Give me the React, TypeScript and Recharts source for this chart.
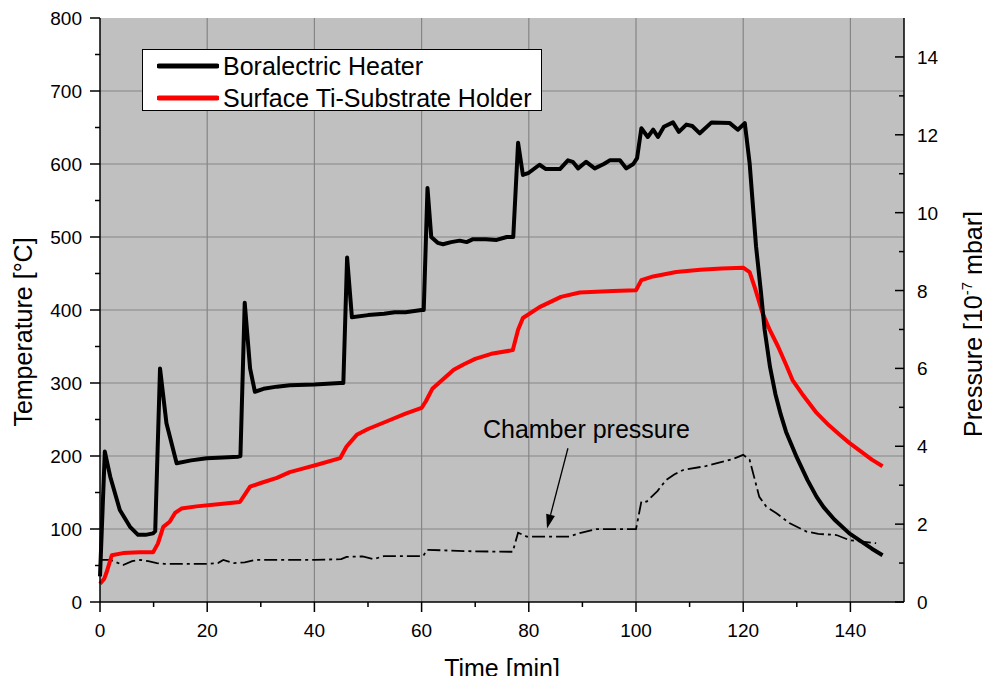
import React from 'react'
import { LineChart, Line, XAxis, YAxis, CartesianGrid, ReferenceLine, Legend } from 'recharts'

// Boralectric heater temperature [°C] vs time [min]
const heaterTime = [
  0, 0.9, 1.9, 3.7, 5.6, 7.1, 8.5, 9.9, 10.3, 11.2, 12.4, 14.3, 17, 19.9, 23, 25.8, 26.2, 27, 28, 28.9,
  30.5, 33, 35.4, 40, 44.8, 45.4, 46.1, 47, 50, 53, 55, 57, 60, 60.4, 61.1, 61.8, 63, 64, 65.5, 67.1,
  68.4, 69.6, 72, 74, 75.9, 77.1, 78, 78.9, 80, 82, 83.2, 85.8, 87.3, 88.2, 89.2, 90.7, 92.3, 94, 95.1,
  97, 98.2, 99.5, 100.2, 101, 102.2, 103.2, 104.1, 105.2, 106.9, 108, 109.4, 110.5, 111.9, 114.1, 117.5,
  119, 120.3, 121.2, 122.4, 123.3, 124, 125, 126, 127, 128, 129.2, 130, 132, 133.7, 135, 137, 139.8, 142,
  144, 146,
]
const heaterTemp = [
  35, 206, 172, 126, 103, 92, 92, 94, 97, 320, 245, 190, 194, 197, 198, 199, 200, 410, 320, 288,
  292, 295, 297, 298, 300, 300, 472, 390, 393, 395, 397, 397, 400, 400, 567, 500, 492, 490, 493, 495,
  493, 497, 497, 496, 500, 500, 629, 585, 588, 599, 593, 593, 605, 603, 594, 603, 594, 600, 605,
  605, 594, 600, 608, 649, 637, 647, 637, 651, 657, 644, 654, 652, 642, 657, 656,
  647, 656, 601, 487, 425, 373, 322, 285, 257, 233, 212, 198, 167, 144, 130, 113, 94, 83,
  73, 64,
]

// surface Ti-substrate holder temperature [°C]
const holderTime = [
  0, 0.8, 1.2, 2.2, 4.3, 7.4, 9.9, 10.8, 11.8, 13, 14, 15.2, 18, 22, 26.1, 28, 30, 33, 35.4, 38,
  41, 44.8, 46, 47.9, 50, 54, 57, 60, 60.8, 62, 64, 66, 68, 70, 73, 77, 78, 78.9, 82, 86,
  89.5, 95.7, 100, 101, 103.2, 107.5, 112, 116, 120, 121.2, 122.2, 123.6, 125, 126.5, 128, 129.2, 131, 133.7, 136, 138,
  139.8, 142, 144, 146,
]
const holderTemp = [
  25, 32, 40, 64, 67, 68, 68, 80, 103, 110, 122, 128, 131, 134, 137, 158, 163, 170, 178, 183,
  189, 197, 213, 229, 237, 249, 258, 266, 275, 292, 305, 318, 326, 333, 340, 345, 373, 389, 404, 418,
  424, 426, 427, 441, 446, 452, 455, 457, 458, 452, 430, 396, 372, 350, 325, 304, 285, 259, 242, 229,
  218, 206, 195, 186,
]

// chamber pressure [1e-7 mbar]
const pressureTime = [
  0, 2, 4.3, 6, 7.5, 9, 10.6, 12, 16, 20, 22, 23, 25, 27, 29, 35, 40, 45, 46, 49,
  51, 53, 60.3, 61, 70, 77, 78, 79.6, 87.6, 89.5, 92.6, 100, 101, 102, 104, 105.6, 107.2, 108.8, 113, 118,
  120, 121.2, 123, 124.3, 126.2, 128.7, 131.8, 134, 137.4, 139.8, 144.8,
]
const pressureValue = [
  1.08, 1.08, 0.95, 1.05, 1.08, 1.05, 1.0, 0.98, 0.98, 0.98, 1.0, 1.08, 1.0, 1.02, 1.08, 1.08, 1.08, 1.1, 1.16, 1.17,
  1.1, 1.18, 1.18, 1.34, 1.3, 1.29, 1.78, 1.68, 1.68, 1.77, 1.87, 1.87, 2.58, 2.58, 2.85, 3.13, 3.28, 3.39, 3.49, 3.67,
  3.78, 3.65, 2.7, 2.45, 2.28, 2.02, 1.81, 1.75, 1.72, 1.59, 1.51,
]

const timeTicks = [0, 10, 20, 30, 40, 50, 60, 70, 80, 90, 100, 110, 120, 130, 140]
const timeGrid = [20, 40, 60, 80, 100, 120, 140]
const tempTicks = [0, 50, 100, 150, 200, 250, 300, 350, 400, 450, 500, 550, 600, 650, 700, 750, 800]
const tempGrid = [100, 200, 300, 400, 500, 600, 700]
const pressureTicks = [0, 1, 2, 3, 4, 5, 6, 7, 8, 9, 10, 11, 12, 13, 14]

const seriesNames = ['Boralectric Heater', 'Surface Ti-Substrate Holder']
const arrowSegment = [
  { x: 87.3, y: 3.95 },
  { x: 83.4, y: 1.89 },
]

const toPoints = (xs: number[], ys: number[]) => xs.map((t, i) => ({ t, v: ys[i] }))
const heaterData = toPoints(heaterTime, heaterTemp)
const holderData = toPoints(holderTime, holderTemp)
const pressureData = toPoints(pressureTime, pressureValue)

const FONT = '"Liberation Sans", Arial, sans-serif'

const BottomTick = ({ x, y, payload }: any) => {
  const major = payload.value % 20 === 0
  return (
    <g>
      <line x1={x} x2={x} y1={y} y2={y + (major ? 10 : 5)} stroke="#000" strokeWidth={1.5} />
      {major && (
        <text x={x} y={y + 35} textAnchor="middle" fontSize={19} fontFamily={FONT} fill="#000">
          {payload.value}
        </text>
      )}
    </g>
  )
}

const TopTick = ({ x, y, payload }: any) => {
  const major = payload.value % 20 === 0
  return <line x1={x} x2={x} y1={y} y2={y + (major ? 9 : 5)} stroke="#000" strokeWidth={1.5} />
}

const LeftTick = ({ x, y, payload }: any) => {
  const major = payload.value % 100 === 0
  return (
    <g>
      <line x1={x - (major ? 10 : 5)} x2={x} y1={y} y2={y} stroke="#000" strokeWidth={1.5} />
      {major && (
        <text x={x - 18} y={y + 7} textAnchor="end" fontSize={19} fontFamily={FONT} fill="#000">
          {payload.value}
        </text>
      )}
    </g>
  )
}

const RightTick = ({ x, y, payload }: any) => {
  const major = payload.value % 2 === 0
  return (
    <g>
      <line x1={x - (major ? 9 : 5)} x2={x} y1={y} y2={y} stroke="#000" strokeWidth={1.5} />
      {major && (
        <text x={x + 13} y={y + 7} textAnchor="start" fontSize={19} fontFamily={FONT} fill="#000">
          {payload.value}
        </text>
      )}
    </g>
  )
}

const LeftTitle = () => (
  <text x={24} y={324} transform="rotate(-90 24 324)" textAnchor="middle" fontSize={25} fontFamily={FONT} fill="#000">
    Temperature [°C]
  </text>
)

const RightTitle = () => (
  <text x={974} y={316} transform="rotate(-90 974 316)" textAnchor="middle" fontSize={25} fontFamily={FONT} fill="#000">
    Pressure [10
    <tspan fontSize={15} dy={-10}>-7</tspan>
    <tspan dy={10}> mbar]</tspan>
  </text>
)

const BottomTitle = () => (
  <text x={494} y={669} textAnchor="middle" fontSize={25} fontFamily={FONT} fill="#000">
    Time [min]
  </text>
)

const Arrow = ({ x1, y1, x2, y2 }: any) => {
  const dx = x2 - x1
  const dy = y2 - y1
  const len = Math.sqrt(dx * dx + dy * dy)
  const ux = dx / len
  const uy = dy / len
  const bx = x2 - ux * 14
  const by = y2 - uy * 14
  return (
    <g>
      <line x1={x1} y1={y1} x2={bx} y2={by} stroke="#000" strokeWidth={1.3} />
      <polygon points={`${x2},${y2} ${bx - uy * 4.5},${by + ux * 4.5} ${bx + uy * 4.5},${by - ux * 4.5}`} fill="#000" />
      <text x={x1 - 85} y={y1 - 10} fontSize={25} fontFamily={FONT} fill="#000">
        Chamber pressure
      </text>
    </g>
  )
}

const LegendBox = ({ payload }: any) => {
  const items = (payload || [])
    .filter((p: any) => seriesNames.includes(p.value))
    .sort((a: any, b: any) => seriesNames.indexOf(a.value) - seriesNames.indexOf(b.value))
  return (
    <div
      style={{
        width: 400,
        height: 62,
        boxSizing: 'border-box',
        border: '1px solid #000',
        background: '#fff',
        position: 'relative',
        fontFamily: FONT,
      }}
    >
      {items.map((item: any, i: number) => (
        <div key={item.value} style={{ position: 'absolute', left: 14, top: 2 + i * 31.5, height: 28, display: 'flex', alignItems: 'center' }}>
          <svg width={62} height={10} style={{ display: 'block' }}>
            <line x1={2} x2={60} y1={5} y2={5} stroke={item.color} strokeWidth={5} strokeLinecap="round" />
          </svg>
          <span style={{ marginLeft: 4, fontSize: 25, lineHeight: '28px', color: '#000', whiteSpace: 'nowrap' }}>{item.value}</span>
        </div>
      ))}
    </div>
  )
}

export default function App() {
  return (
    <div style={{ width: 982, height: 668 }}>
      <style>{'.recharts-surface, .recharts-wrapper { overflow: visible !important; }'}</style>
      <LineChart width={982} height={668} margin={{ top: 10, right: 0, bottom: 0, left: 0 }}>
        <CartesianGrid xAxisId="bottom" yAxisId="left" fill="#c0c0c0" horizontal={false} vertical={false} />
        {timeGrid.map((v) => (
          <ReferenceLine key={'gx' + v} xAxisId="bottom" yAxisId="left" x={v} stroke="#858585" strokeWidth={1.2} />
        ))}
        {tempGrid.map((v) => (
          <ReferenceLine key={'gy' + v} xAxisId="bottom" yAxisId="left" y={v} stroke="#858585" strokeWidth={1.2} />
        ))}
        <XAxis
          xAxisId="bottom"
          type="number"
          dataKey="t"
          domain={[0, 150]}
          ticks={timeTicks}
          interval={0}
          height={74}
          tickSize={0}
          tickMargin={0}
          tickLine={false}
          tick={BottomTick}
          axisLine={{ stroke: '#000', strokeWidth: 1.5 }}
          label={<BottomTitle />}
        />
        <XAxis
          xAxisId="top"
          orientation="top"
          type="number"
          dataKey="t"
          domain={[0, 150]}
          ticks={timeTicks}
          interval={0}
          height={0}
          tickSize={0}
          tickMargin={0}
          tickLine={false}
          tick={TopTick}
          axisLine={{ stroke: '#000', strokeWidth: 1.5 }}
        />
        <YAxis
          yAxisId="left"
          type="number"
          domain={[0, 800]}
          ticks={tempTicks}
          interval={0}
          width={92}
          tickSize={0}
          tickMargin={0}
          tickLine={false}
          tick={LeftTick}
          axisLine={{ stroke: '#000', strokeWidth: 1.5 }}
          label={<LeftTitle />}
        />
        <YAxis
          yAxisId="right"
          orientation="right"
          type="number"
          domain={[0, 15]}
          ticks={pressureTicks}
          interval={0}
          width={86}
          tickSize={0}
          tickMargin={0}
          tickLine={false}
          tick={RightTick}
          axisLine={{ stroke: '#000', strokeWidth: 1.5 }}
          label={<RightTitle />}
        />
        <Legend
          layout="horizontal"
          align="center"
          verticalAlign="middle"
          wrapperStyle={{ left: 134, top: 41, width: 400 }}
          content={LegendBox}
        />
        <Line
          xAxisId="bottom"
          yAxisId="right"
          data={pressureData}
          dataKey="v"
          name="Chamber pressure"
          legendType="none"
          type="linear"
          stroke="#000"
          strokeWidth={1.8}
          strokeDasharray="13 4 3 4"
          dot={false}
          activeDot={false}
          isAnimationActive={false}
        />
        <Line
          xAxisId="bottom"
          yAxisId="left"
          data={holderData}
          dataKey="v"
          name={seriesNames[1]}
          type="linear"
          stroke="#ff0000"
          strokeWidth={4}
          strokeLinejoin="round"
          dot={false}
          activeDot={false}
          isAnimationActive={false}
        />
        <Line
          xAxisId="bottom"
          yAxisId="left"
          data={heaterData}
          dataKey="v"
          name={seriesNames[0]}
          type="linear"
          stroke="#000"
          strokeWidth={4}
          strokeLinejoin="round"
          dot={false}
          activeDot={false}
          isAnimationActive={false}
        />
        <ReferenceLine xAxisId="bottom" yAxisId="right" segment={arrowSegment} shape={Arrow} />
      </LineChart>
    </div>
  )
}
